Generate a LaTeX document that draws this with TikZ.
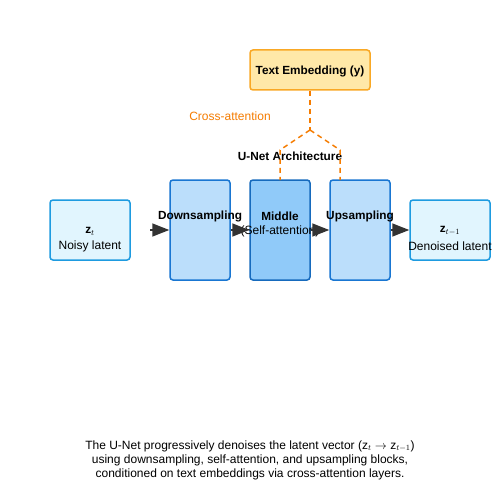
\documentclass[tikz,border=0pt]{standalone}
\usepackage{fontspec}
\setmainfont{Liberation Sans}
\usetikzlibrary{arrows.meta}
\definecolor{embfill}{HTML}{FFE8A8}
\definecolor{embdraw}{HTML}{F9A825}
\definecolor{latfill}{HTML}{E1F5FE}
\definecolor{latdraw}{HTML}{1E9BE0}
\definecolor{blkfill}{HTML}{BBDEFB}
\definecolor{midfill}{HTML}{90CAF9}
\definecolor{blkdraw}{HTML}{1976D2}
\definecolor{crossc}{HTML}{F57C00}
\definecolor{arrc}{HTML}{333333}
\tikzset{
  box/.style={draw, rounded corners=3pt, line width=1.5pt, inner sep=0pt},
  latent/.style={box, fill=latfill, draw=latdraw, minimum width=80pt, minimum height=60pt},
  block/.style={box, fill=blkfill, draw=blkdraw, minimum width=60pt, minimum height=100pt},
  title/.style={font=\bfseries\fontsize{11.8}{13}\selectfont},
  plain/.style={font=\fontsize{12}{14}\selectfont},
  cross/.style={crossc, line width=1.5pt, dash pattern=on 5pt off 4pt},
  flow/.style={arrc, line width=1.5pt, -{Triangle[length=17pt,width=13pt]}}
}
\begin{document}
\begin{tikzpicture}[x=1pt, y=-1pt]
  \useasboundingbox (0,0) rectangle (500,500);
  \fill[white] (0,0) rectangle (500,500);

  \node[box, fill=embfill, draw=embdraw, minimum width=120pt, minimum height=40pt] (emb) at (310, 70) {};
  \node[title] (embtxt) at (310, 71) {Text Embedding (y)};

  \node[latent] (zt) at (90, 230) {};
  \node[block] (down) at (200, 230) {};
  \node[block, fill=midfill, draw=blkdraw!90!black] (mid) at (280, 230) {};
  \node[block] (up) at (360, 230) {};
  \node[latent] (zt1) at (450, 230) {};

  \node[title] (zttxt) at (90, 231) {z$_t$};
  \node[plain] (ztlab) at (90, 246) {Noisy latent};
  \node[title] (downtxt) at (200, 216) {Downsampling};
  \node[title] (midtxt) at (280, 216) {Middle};
  \node[plain] (midlab) at (280, 231) {(Self-attention)};
  \node[title] (uptxt) at (360, 216) {Upsampling};
  \node[title] (zt1txt) at (450, 231) {z$_{t-1}$};
  \node[plain] (zt1lab) at (450, 246) {Denoised latent};

  \node[title] (unet) at (290, 156) {U-Net Architecture};
  \node[plain, crossc] (crosstxt) at (230, 116) {Cross-attention};

  % cross-attention
  \coordinate (split) at (310, 130);
  \coordinate (sl) at (280, 150);
  \coordinate (sr) at (340, 150);
  \coordinate (ml) at (280, 180);
  \coordinate (mr) at (340, 180);
  \draw[cross] (emb.south) -- (split);
  \draw[cross] (split) -- (sl) -- (ml);
  \draw[cross] (split) -- (sr) -- (mr);

  % flow
  \coordinate (start) at (150, 230);
  \draw[flow] (start) -- (down.west);
  \draw[flow] (down.east) -- (mid.west);
  \draw[flow] (mid.east) -- (up.west);
  \draw[flow] (up.east) -- (zt1.west);

  \node[plain, align=center] (caption) at (250, 460)
    {The U-Net progressively denoises the latent vector (z$_t$ $\rightarrow$ z$_{t-1}$)\\
     using downsampling, self-attention, and upsampling blocks,\\
     conditioned on text embeddings via cross-attention layers.};
\end{tikzpicture}
\end{document}
